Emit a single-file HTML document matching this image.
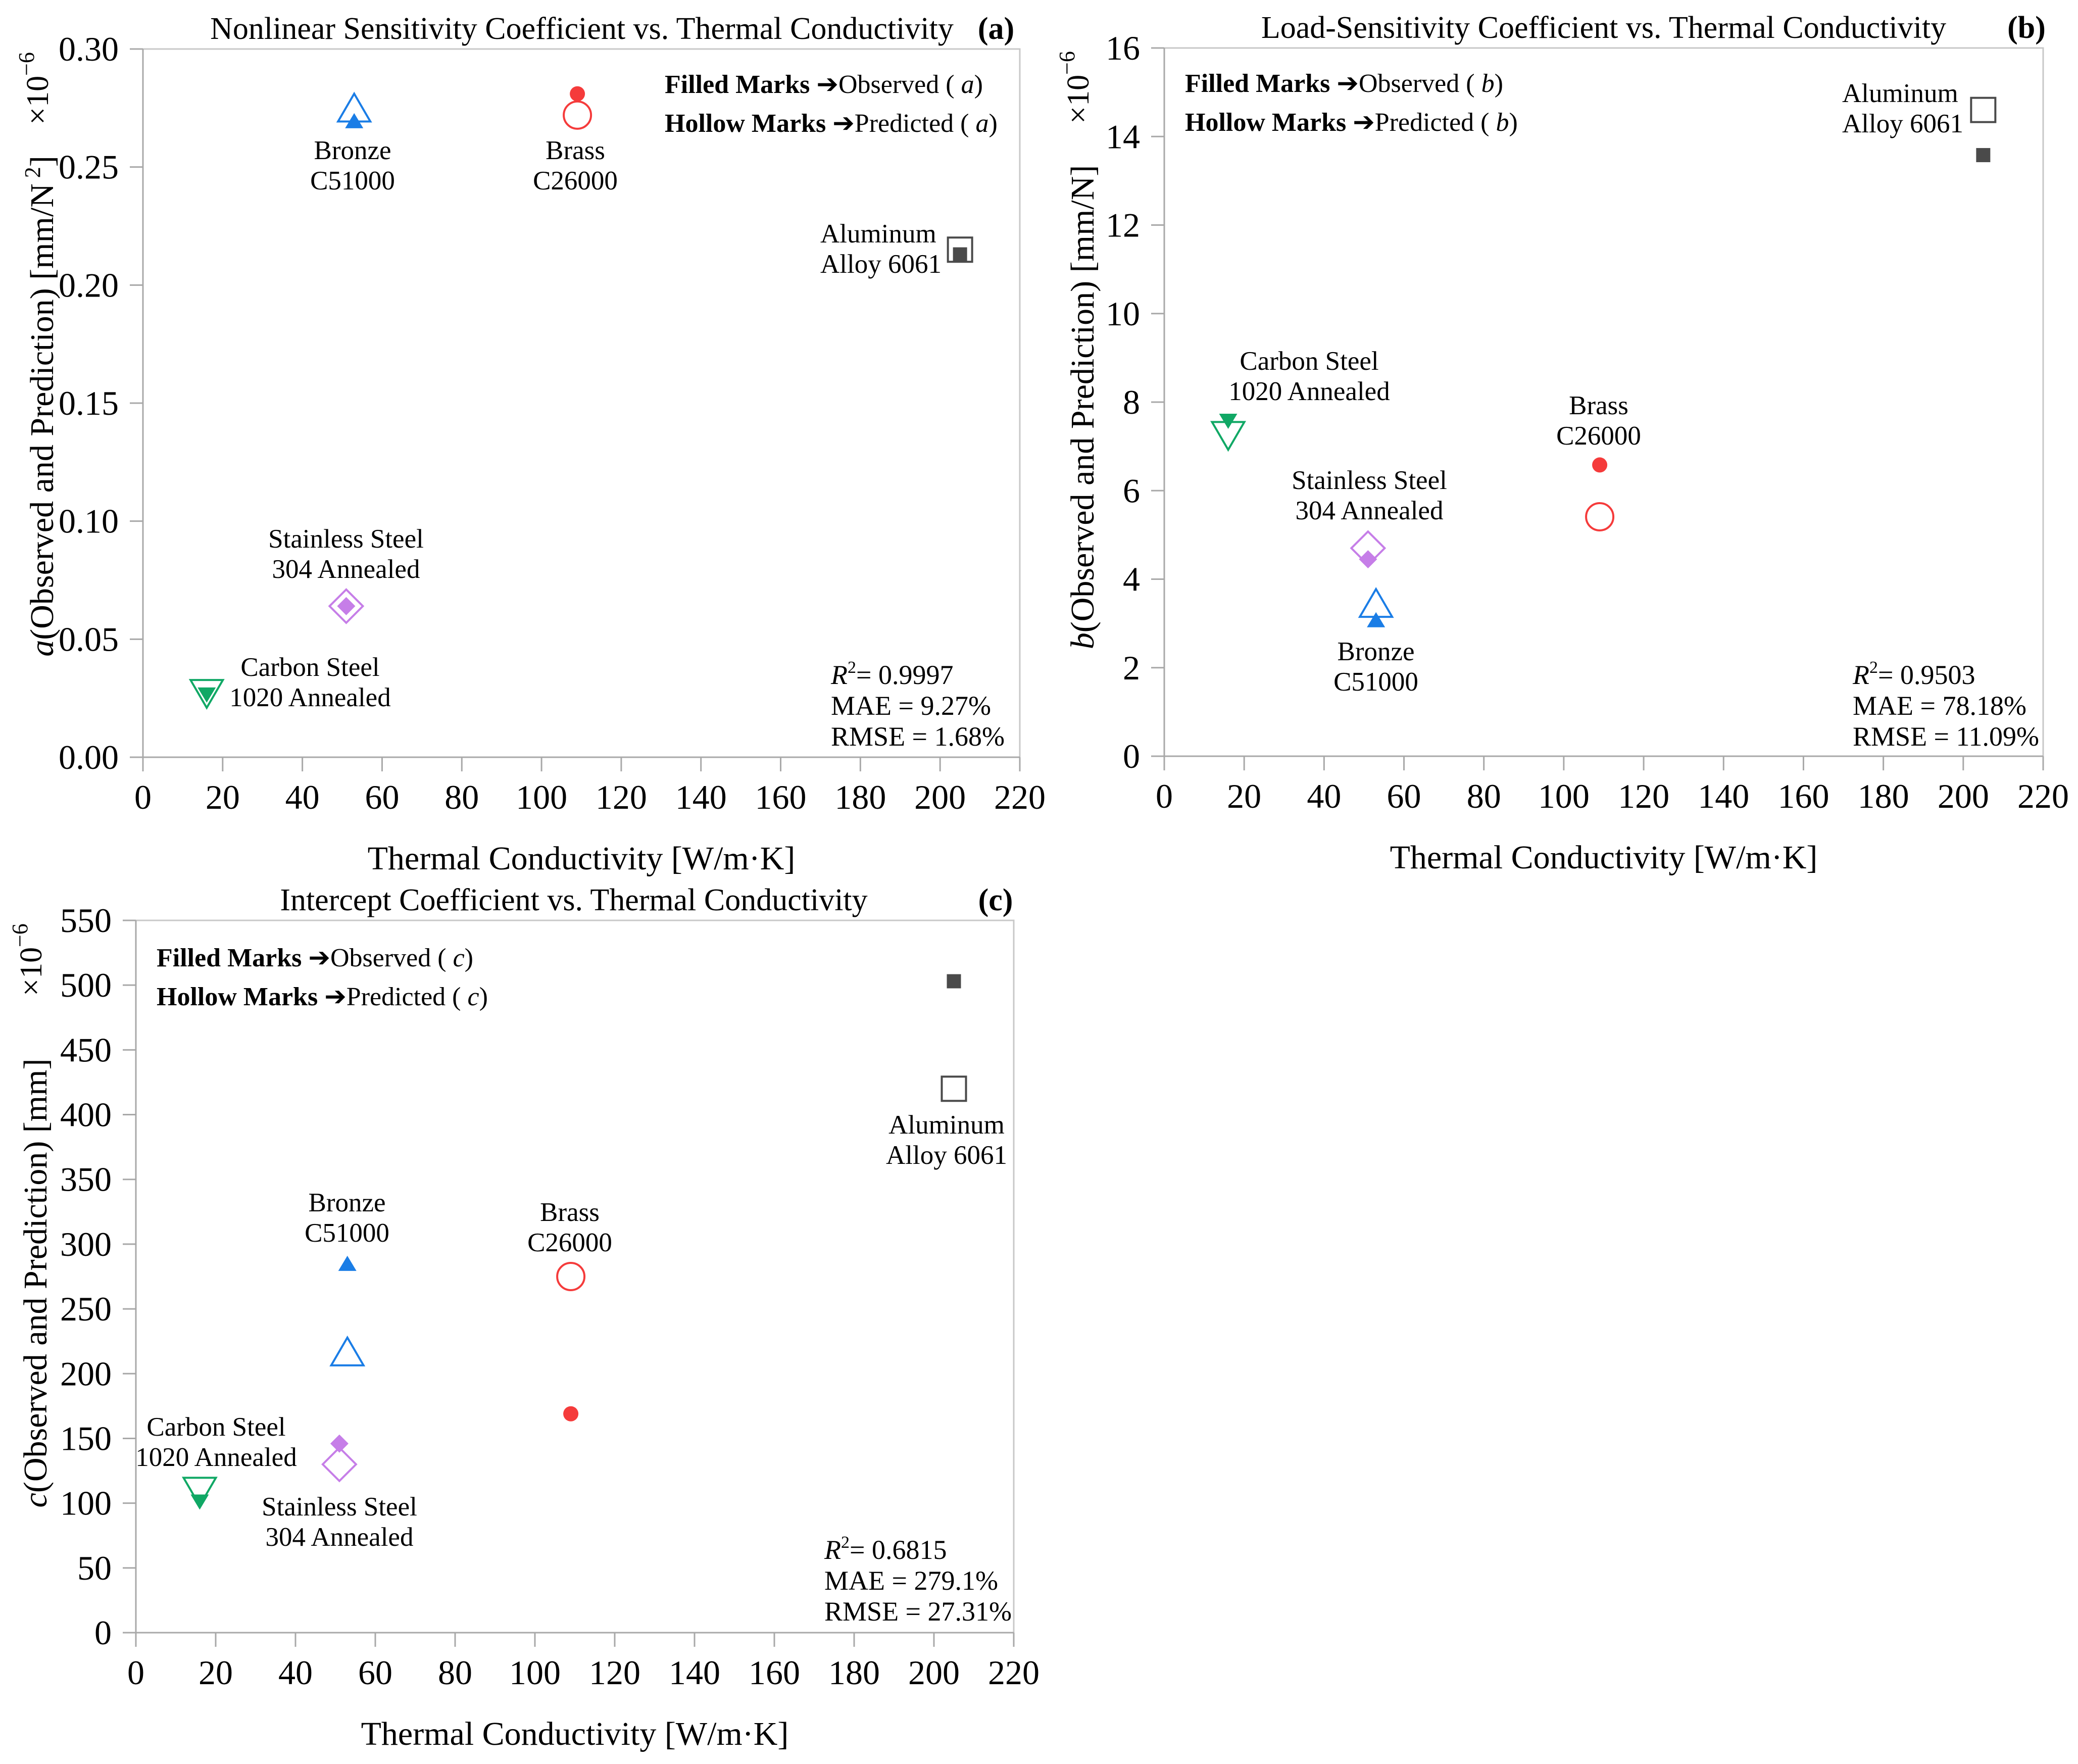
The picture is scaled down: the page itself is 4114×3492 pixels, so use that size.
<!DOCTYPE html>
<html><head><meta charset="utf-8">
<style>
html,body{margin:0;padding:0;background:#fff;}
svg, svg text, svg tspan{font-family:"Liberation Serif","Times New Roman","DejaVu Serif",serif;}
</style></head>
<body>
<svg id="fig" width="4114" height="3487" viewBox="0 0 4114 3487" xmlns="http://www.w3.org/2000/svg" font-family="Liberation Serif, serif"></svg>
<script>
// ---- data (thermal conductivity, W/m·K) ----
const materials = ["Bronze C51000","Brass C26000","Aluminum Alloy 6061","Stainless Steel 304 Annealed","Carbon Steel 1020 Annealed"];
const conductivity = [53, 109, 205, 51, 16];
// panel (a) ×1e-6 mm/N^2
const aObserved = [0.269, 0.281, 0.213, 0.064, 0.027];
const aPredicted = [0.274, 0.272, 0.215, 0.064, 0.028];
// panel (b) ×1e-6 mm/N
const bObserved = [3.05, 6.58, 13.58, 4.45, 7.6];
const bPredicted = [3.4, 5.41, 14.6, 4.7, 7.3];
// panel (c) ×1e-6 mm
const cObserved = [284, 169, 503, 146, 102];
const cPredicted = [215, 275, 420, 130, 111];
const xTicks = [0,20,40,60,80,100,120,140,160,180,200,220];
const aTicks = ["0.00","0.05","0.10","0.15","0.20","0.25","0.30"];
const bTicks = ["0","2","4","6","8","10","12","14","16"];
const cTicks = ["0","50","100","150","200","250","300","350","400","450","500","550"];

const colors = ["#1a7de6","#f53b3b","#4a4a4a","#c67ee8","#10a865"];
const shapes = ["tri","circle","square","diamond","dtri"];
const NS = "http://www.w3.org/2000/svg";
const svg = document.getElementById("fig");
const FF = "Liberation Serif, Times New Roman, DejaVu Serif, serif";

function el(tag, attrs, parent, text){
  const e = document.createElementNS(NS, tag);
  for (const k in attrs) e.setAttribute(k, attrs[k]);
  if (tag === "text") e.setAttribute("font-family", FF);
  if (text !== undefined) e.textContent = text;
  (parent||svg).appendChild(e);
  return e;
}

function marker(g, shape, cx, cy, filled, color){
  const sw = filled ? 0 : 4;
  const fill = filled ? color : "none";
  let m;
  if (shape === "circle") m = el("circle",{cx:cx,cy:cy,r:filled?15:27,fill:fill,stroke:color,"stroke-width":sw},g);
  else if (shape === "square") { const h = filled?14:24; m = el("rect",{x:cx-h,y:cy-h,width:2*h,height:2*h,fill:fill,stroke:color,"stroke-width":sw},g); }
  else if (shape === "diamond") { const h = filled?18:33; m = el("polygon",{points:`${cx},${cy-h} ${cx+h},${cy} ${cx},${cy+h} ${cx-h},${cy}`,fill:fill,stroke:color,"stroke-width":sw},g); }
  else if (shape === "tri") { const w = filled?18:32, h = filled?30:55; m = el("polygon",{points:`${cx},${cy-h*0.6} ${cx+w},${cy+h*0.4} ${cx-w},${cy+h*0.4}`,fill:fill,stroke:color,"stroke-width":sw},g); }
  else { const w = filled?18:32, h = filled?30:55; m = el("polygon",{points:`${cx},${cy+h*0.6} ${cx+w},${cy-h*0.4} ${cx-w},${cy-h*0.4}`,fill:fill,stroke:color,"stroke-width":sw},g); }
  
  
}

function panel(cfg){
  const g = el("g",{});
  
  
  const {x0,x1,y0,y1,ymax} = cfg;
  const sx = v => x0 + v/220*(x1-x0);
  const sy = v => y0 - v/ymax*(y0-y1);
  el("polyline",{points:`${x0},${y1} ${x1},${y1} ${x1},${y0}`,fill:"none",stroke:"#c8c8c8","stroke-width":3},g);
  el("line",{x1:x0,y1:y0,x2:x1,y2:y0,stroke:"#a8a8a8","stroke-width":3},g);
  el("line",{x1:x0,y1:y0,x2:x0,y2:y1,stroke:"#a8a8a8","stroke-width":3},g);
  xTicks.forEach(t=>{
    const x = sx(t);
    el("line",{x1:x,y1:y0,x2:x,y2:y0+28,stroke:"#a8a8a8","stroke-width":3},g);
    const tl = el("text",{x:x,y:y0+102,"font-size":68,"text-anchor":"middle"},g,String(t));
    
    
  });
  cfg.ticks.forEach(t=>{
    const y = sy(parseFloat(t));
    el("line",{x1:x0-26,y1:y,x2:x0,y2:y,stroke:"#a8a8a8","stroke-width":3},g);
    const tl = el("text",{x:x0-48,y:y+23,"font-size":68,"text-anchor":"end"},g,t);
    
    
  });
  const tt = el("text",{x:cfg.titleX,y:y1-20,"font-size":62,"text-anchor":"middle"},g,cfg.title);
  
  
  const tg = el("text",{x:cfg.tagX,y:y1-20,"font-size":62,"font-weight":"bold","text-anchor":"middle"},g,"("+cfg.id+")");
  
  
  const xt = el("text",{x:(x0+x1)/2,y:y0+222,"font-size":66,"text-anchor":"middle"},g,"Thermal Conductivity [W/m·K]");
  
  
  const yt = el("text",{transform:`translate(${cfg.ytX},${cfg.ytY}) rotate(-90)`,"font-size":66,"text-anchor":"middle"},g);
  
  
  el("tspan",{"font-style":"italic"},yt,cfg.letter);
  el("tspan",{},yt,cfg.ytText);
  if (cfg.sup){ el("tspan",{"font-size":44,dy:-26},yt," 2"); el("tspan",{dy:26},yt,"]"); }
  const mult = el("text",{transform:`translate(${cfg.ytX-10},${y1+78}) rotate(-90)`,"font-size":62,"text-anchor":"middle"},g);
  
  
  el("tspan",{},mult,"×10");
  el("tspan",{"font-size":44,dy:-28},mult,"−6");
  const lg = el("g",{},g);
  
  
  const l1 = el("text",{x:cfg.legX,y:cfg.legY,"font-size":52},lg);
  el("tspan",{"font-weight":"bold"},l1,"Filled Marks ");
  el("tspan",{},l1,"➔Observed ( ");
  el("tspan",{"font-style":"italic"},l1,cfg.letter);
  el("tspan",{},l1,")");
  const l2 = el("text",{x:cfg.legX,y:cfg.legY+77,"font-size":52},lg);
  el("tspan",{"font-weight":"bold"},l2,"Hollow Marks ");
  el("tspan",{},l2,"➔Predicted ( ");
  el("tspan",{"font-style":"italic"},l2,cfg.letter);
  el("tspan",{},l2,")");
  const st = el("g",{},g);
  
  
  const s1 = el("text",{x:cfg.statX,y:cfg.statY,"font-size":54},st);
  el("tspan",{"font-style":"italic"},s1,"R");
  el("tspan",{"font-size":34,dy:-22},s1,"2");
  el("tspan",{dy:22},s1,"= "+cfg.stats[0]);
  el("text",{x:cfg.statX,y:cfg.statY+61,"font-size":54},st,"MAE = "+cfg.stats[1]);
  el("text",{x:cfg.statX,y:cfg.statY+122,"font-size":54},st,"RMSE = "+cfg.stats[2]);
  cfg.labels.forEach(L=>{
    const t1 = el("text",{x:L[0],y:L[1],"font-size":53,"text-anchor":L[3]||"middle"},g,L[2][0]);
    
    
    const t2 = el("text",{x:L[0],y:L[1]+60,"font-size":53,"text-anchor":L[3]||"middle"},g,L[2][1]);
    
    
  });
  conductivity.forEach((k,i)=>{
    marker(g, shapes[i], sx(k), sy(cfg.pred[i]), false, colors[i]);
    marker(g, shapes[i], sx(k), sy(cfg.obs[i]), true, colors[i]);
  });
}

panel({id:"a",letter:"a",x0:283,x1:2019,y0:1499,y1:97,ymax:0.30,ticks:aTicks,obs:aObserved,pred:aPredicted,
  title:"Nonlinear Sensitivity Coefficient vs. Thermal Conductivity",titleX:1152,tagX:1972,
  ytX:105,ytY:804,ytText:"(Observed and Prediction) [mm/N",sup:true,
  legX:1316,legY:184,statX:1645,statY:1354,stats:["0.9997","9.27%","1.68%"],
  labels:[[698,315,["Bronze","C51000"]],[1139,315,["Brass","C26000"]],[1624,480,["Aluminum","Alloy 6061"],"start"],
          [685,1084,["Stainless Steel","304 Annealed"]],[614,1338,["Carbon Steel","1020 Annealed"]]]});

panel({id:"b",letter:"b",x0:2305,x1:4045,y0:1497,y1:95,ymax:16,ticks:bTicks,obs:bObserved,pred:bPredicted,
  title:"Load-Sensitivity Coefficient vs. Thermal Conductivity",titleX:3175,tagX:4012,
  ytX:2165,ytY:806,ytText:"(Observed and Prediction) [mm/N]",sup:false,
  legX:2346,legY:182,statX:3668,statY:1354,stats:["0.9503","78.18%","11.09%"],
  labels:[[3647,202,["Aluminum","Alloy 6061"],"start"],[2592,732,["Carbon Steel","1020 Annealed"]],
          [3165,820,["Brass","C26000"]],[2711,968,["Stainless Steel","304 Annealed"]],[2724,1307,["Bronze","C51000"]]]});

panel({id:"c",letter:"c",x0:269,x1:2007,y0:3232,y1:1822,ymax:550,ticks:cTicks,obs:cObserved,pred:cPredicted,
  title:"Intercept Coefficient vs. Thermal Conductivity",titleX:1136,tagX:1971,
  ytX:92,ytY:2540,ytText:"(Observed and Prediction) [mm]",sup:false,
  legX:310,legY:1913,statX:1632,statY:3086,stats:["0.6815","279.1%","27.31%"],
  labels:[[1874,2244,["Aluminum","Alloy 6061"]],[687,2398,["Bronze","C51000"]],[1128,2417,["Brass","C26000"]],
          [428,2842,["Carbon Steel","1020 Annealed"]],[672,3000,["Stainless Steel","304 Annealed"]]]});
</script>
</body></html>
